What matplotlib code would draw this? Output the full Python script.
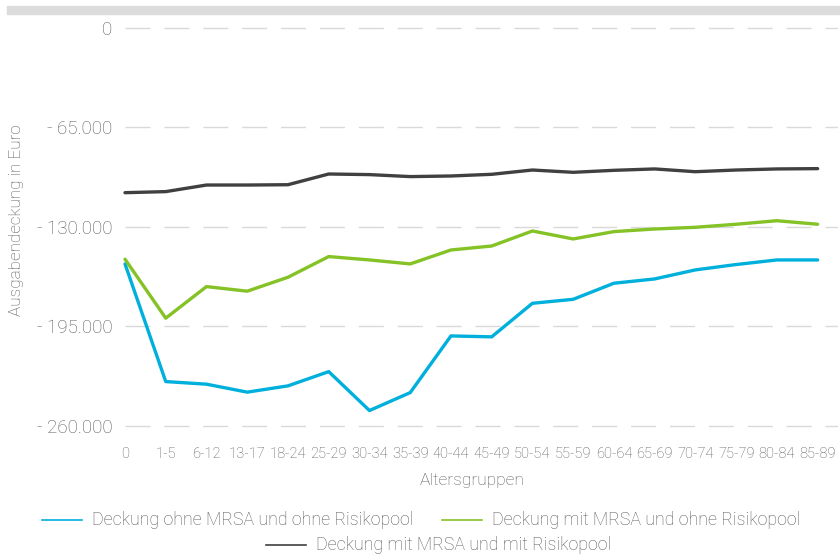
import matplotlib
matplotlib.use("Agg")
import matplotlib.pyplot as plt
from matplotlib.lines import Line2D
from matplotlib.patches import Rectangle

plt.rcParams['font.family'] = ['Roboto', 'DejaVu Sans']
plt.rcParams['font.weight'] = 'light'

groups = ['0', '1-5', '6-12', '13-17', '18-24', '25-29', '30-34', '35-39', '40-44',
          '45-49', '50-54', '55-59', '60-64', '65-69', '70-74', '75-79', '80-84', '85-89']

ohne_mrsa_ohne_pool = [-154200, -231000, -232700, -237900, -233800, -224500, -249900, -238200,
                       -201200, -201800, -179900, -177300, -166800, -164000, -158100, -154600,
                       -151600, -151600]
mit_mrsa_ohne_pool = [-151100, -189600, -169000, -172000, -162900, -149400, -151600, -154200,
                      -145100, -142500, -132700, -137900, -133100, -131400, -130300, -128300,
                      -126000, -128300]
mit_mrsa_mit_pool = [-107700, -107000, -102700, -102700, -102500, -95500, -95900, -97200,
                     -96800, -95700, -92900, -94400, -93100, -92200, -94000, -92900,
                     -92200, -92000]

yticks = [0, -65000, -130000, -195000, -260000]
ytick_labels = ['0', '- 65.000', '- 130.000', '- 195.000', '- 260.000']

blue = '#00b0dc'
green = '#84c225'
dark = '#404040'
txt = '#5a5a5a'

W, H = 840, 555
fig = plt.figure(figsize=(8.4, 5.55), dpi=100)
fig.patches.append(Rectangle((7 / W, 1 - 14 / H), 833 / W, 8 / H,
                             transform=fig.transFigure, color='#dcdcdc', zorder=0))

ax = fig.add_axes([125 / W, 1 - 430.6 / H, 713 / W, (430.6 - 23.1) / H])
x = list(range(len(groups)))
ax.plot(x, ohne_mrsa_ohne_pool, color=blue, lw=2.4, solid_capstyle='round', clip_on=False)
ax.plot(x, mit_mrsa_ohne_pool, color=green, lw=2.4, solid_capstyle='round', clip_on=False)
ax.plot(x, mit_mrsa_mit_pool, color=dark, lw=2.4, solid_capstyle='round', clip_on=False)

ax.set_xlim(0, 17.5)
ax.set_ylim(-263000, 3000)
ax.set_yticks(yticks)
ax.set_yticklabels(ytick_labels, fontsize=13.5, color=txt)
ax.set_xticks(x)
ax.set_xticklabels(groups, fontsize=10.5, color=txt)
ax.tick_params(length=0, axis='y', pad=9)
ax.tick_params(length=0, axis='x', pad=12)
for s in ax.spines.values():
    s.set_visible(False)
ax.grid(axis='y', color='#d9d9d9', lw=1, linestyle=(0, (18, 10)))
ax.set_axisbelow(True)

fig.text(17 / W, 1 - 220 / H, 'Ausgabendeckung in Euro', rotation=90,
         ha='center', va='center', fontsize=12.3, color=txt)
fig.text(472 / W, 1 - 480 / H, 'Altersgruppen', ha='center', va='center',
         fontsize=12.5, color=txt)

# legend, placed by hand like the original
legend_items = [
    (blue, 'Deckung ohne MRSA und ohne Risikopool', 42, 520),
    (green, 'Deckung mit MRSA und ohne Risikopool', 442, 520),
    (dark, 'Deckung mit MRSA und mit Risikopool', 266, 545),
]
for col, label, px, py in legend_items:
    fig.add_artist(Line2D([px / W, (px + 40) / W], [1 - py / H, 1 - py / H],
                          transform=fig.transFigure, color=col, lw=1.2))
    fig.text((px + 50) / W, 1 - py / H, label, ha='left', va='center',
             fontsize=12.8, color=txt)

fig.savefig('out.png', dpi=100)
